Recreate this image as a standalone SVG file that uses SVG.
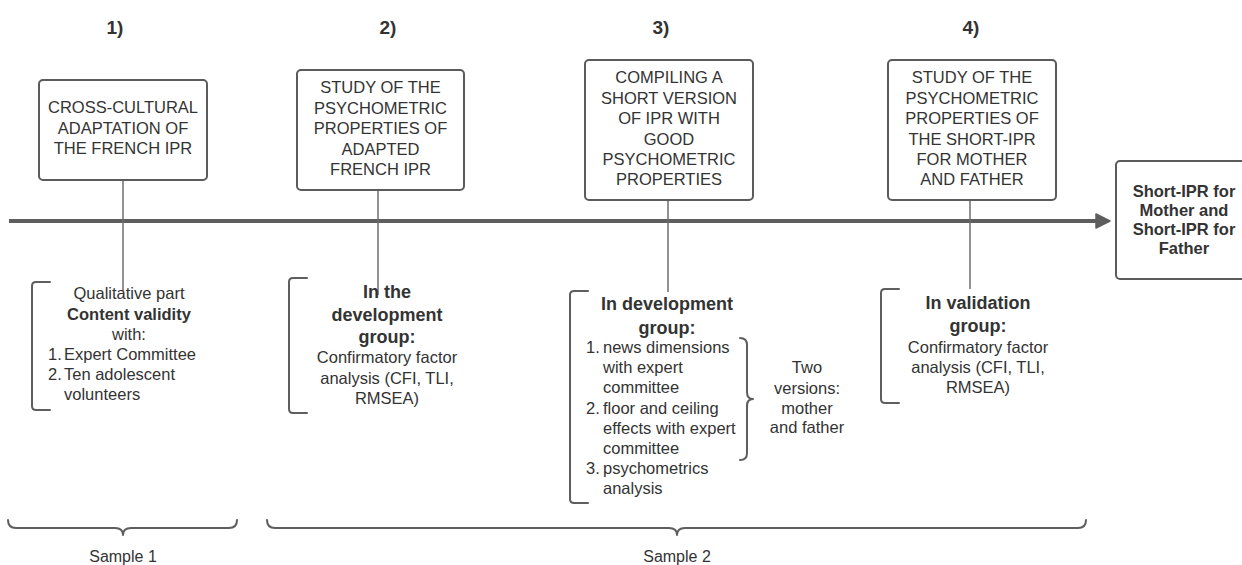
<svg xmlns="http://www.w3.org/2000/svg" width="1242" height="565" viewBox="0 0 1242 565">
<style>
text{font-family:"Liberation Sans",Arial,sans-serif;fill:#333333;font-size:16.5px}
.c{text-anchor:middle}
.b{font-weight:bold}
.h{font-weight:bold;font-size:18px}
.n{font-weight:bold;font-size:19px}
.box{fill:#ffffff;stroke:#5b5b5b;stroke-width:2}
.ln{fill:none;stroke:#5e5e5e;stroke-width:2;stroke-linecap:round;stroke-linejoin:round}
.stem{stroke:#6e6e6e;stroke-width:1.5}
.s{font-size:16px}
</style>
<rect width="1242" height="565" fill="#ffffff"/>
<g id="connectors">
<line x1="9" y1="221" x2="1100" y2="221" stroke="#5e5e5e" stroke-width="4"/>
<polygon points="1096,214 1110,221 1096,228" fill="#5e5e5e" stroke="#5e5e5e" stroke-width="1.5" stroke-linejoin="round"/>
<line class="stem" x1="123" y1="180" x2="123" y2="291"/>
<line class="stem" x1="378" y1="190" x2="378" y2="295"/>
<line class="stem" x1="668" y1="200" x2="668" y2="292"/>
<line class="stem" x1="970" y1="200" x2="970" y2="289"/>
</g>
<g id="labels">
<text class="n c" x="115" y="34">1)</text>
<text class="n c" x="388" y="34">2)</text>
<text class="n c" x="661" y="34">3)</text>
<text class="n c" x="971" y="34">4)</text>
</g>
<g id="step1">
<rect class="box" x="39" y="80" width="168" height="100" rx="4"/>
<text class="c" x="123" y="113">CROSS-CULTURAL</text>
<text class="c" x="123" y="134">ADAPTATION OF</text>
<text class="c" x="123" y="154">THE FRENCH IPR</text>
</g>
<g id="step2">
<rect class="box" x="297" y="70" width="167" height="120" rx="4"/>
<text class="c" x="380.5" y="93">STUDY OF THE</text>
<text class="c" x="380.5" y="114">PSYCHOMETRIC</text>
<text class="c" x="380.5" y="134">PROPERTIES OF</text>
<text class="c" x="380.5" y="155">ADAPTED</text>
<text class="c" x="380.5" y="175">FRENCH IPR</text>
</g>
<g id="step3">
<rect class="box" x="585" y="60" width="168" height="140" rx="4"/>
<text class="c" x="669" y="83">COMPILING A</text>
<text class="c" x="669" y="104">SHORT VERSION</text>
<text class="c" x="669" y="124">OF IPR WITH</text>
<text class="c" x="669" y="145">GOOD</text>
<text class="c" x="669" y="165">PSYCHOMETRIC</text>
<text class="c" x="669" y="185">PROPERTIES</text>
</g>
<g id="step4">
<rect class="box" x="888" y="60" width="168" height="140" rx="4"/>
<text class="c" x="972" y="83">STUDY OF THE</text>
<text class="c" x="972" y="104">PSYCHOMETRIC</text>
<text class="c" x="972" y="124">PROPERTIES OF</text>
<text class="c" x="972" y="145">THE SHORT-IPR</text>
<text class="c" x="972" y="165">FOR MOTHER</text>
<text class="c" x="972" y="185">AND FATHER</text>
</g>
<g id="result">
<rect class="box" x="1116" y="161" width="140" height="118" rx="4"/>
<text class="c b" x="1184" y="197">Short-IPR for</text>
<text class="c b" x="1184" y="216">Mother and</text>
<text class="c b" x="1184" y="235">Short-IPR for</text>
<text class="c b" x="1184" y="254">Father</text>
</g>
<g id="detail1">
<path class="ln" d="M50,282 L36,282 Q32,282 32,286 L32,406 Q32,410 36,410 L50,410"/>
<text class="c" x="129" y="299">Qualitative part</text>
<text class="c b" x="129" y="320">Content validity</text>
<text class="c" x="129" y="340">with:</text>
<text x="48" y="360">1.</text><text x="64" y="360">Expert Committee</text>
<text x="48" y="380">2.</text><text x="64" y="380">Ten adolescent</text>
<text x="64" y="400">volunteers</text>
</g>
<g id="detail2">
<path class="ln" d="M307,278 L293,278 Q289,278 289,282 L289,409 Q289,413 293,413 L307,413"/>
<text class="c h" x="387" y="297.5">In the</text>
<text class="c h" x="387" y="320.5">development</text>
<text class="c h" x="387" y="342.5">group:</text>
<text class="c" x="387" y="363">Confirmatory factor</text>
<text class="c" x="387" y="384">analysis (CFI, TLI,</text>
<text class="c" x="387" y="404">RMSEA)</text>
</g>
<g id="detail3">
<path class="ln" d="M588,291 L574,291 Q570,291 570,295 L570,499 Q570,503 574,503 L588,503"/>
<text class="c h" x="667" y="309.5">In development</text>
<text class="c h" x="667" y="333.5">group:</text>
<text x="586" y="353">1.</text><text x="603" y="353">news dimensions</text>
<text x="603" y="373">with expert</text>
<text x="603" y="393">committee</text>
<text x="586" y="414">2.</text><text x="603" y="414">floor and ceiling</text>
<text x="603" y="434">effects with expert</text>
<text x="603" y="454">committee</text>
<text x="586" y="474">3.</text><text x="603" y="474">psychometrics</text>
<text x="603" y="494">analysis</text>
<path class="ln" d="M740,338 Q747,338 747,345 L747,392 Q747,399 753,399 Q747,399 747,406 L747,453 Q747,460 740,460"/>
<text class="c" x="807" y="373">Two</text>
<text class="c" x="807" y="394">versions:</text>
<text class="c" x="807" y="414">mother</text>
<text class="c" x="807" y="433">and father</text>
</g>
<g id="detail4">
<path class="ln" d="M899,289 L885,289 Q881,289 881,293 L881,399 Q881,403 885,403 L899,403"/>
<text class="c h" x="978" y="308.5">In validation</text>
<text class="c h" x="978" y="331.5">group:</text>
<text class="c" x="978" y="353">Confirmatory factor</text>
<text class="c" x="978" y="373">analysis (CFI, TLI,</text>
<text class="c" x="978" y="393">RMSEA)</text>
</g>
<g id="sample1">
<path class="ln" d="M8,520 Q8,528 16,528 L115,528 Q123,528 123,535 Q123,528 131,528 L229,528 Q237,528 237,520"/>
<text class="c s" x="123" y="562">Sample 1</text>
</g>
<g id="sample2">
<path class="ln" d="M267,520 Q267,528 275,528 L669,528 Q677,528 677,535 Q677,528 685,528 L1078,528 Q1086,528 1086,520"/>
<text class="c s" x="677" y="562">Sample 2</text>
</g>
</svg>
